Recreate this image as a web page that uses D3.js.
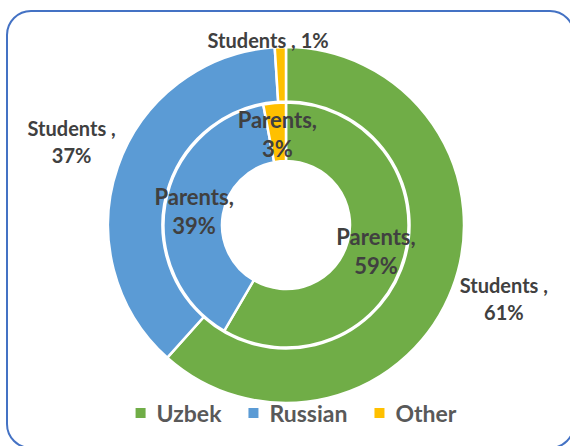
<!DOCTYPE html>
<html>
<head>
<meta charset="utf-8">
<script src="https://cdn.jsdelivr.net/npm/d3@7"></script>
<style>
  body { margin: 0; background: #fff; }
  svg { display: block; }
  text { font-family: Lato, "Open Sans", sans-serif; font-weight: bold; }
</style>
</head>
<body>
<div id="main"></div>
<script>
const W = 570, H = 446;

const languages = ["Uzbek", "Russian", "Other"];
const colors = ["#70AD47", "#5B9BD5", "#FFC000"];
const students = [61, 37, 1];
const parents = [59, 39, 3];

const cx = 286, cy = 225;

let svg = d3.select("#main").append("svg")
    .attr("width", W)
    .attr("height", H);

// frame
svg.append("rect")
    .attr("x", 7).attr("y", 11)
    .attr("width", 567).attr("height", 437)
    .attr("rx", 24).attr("ry", 24)
    .attr("fill", "none")
    .attr("stroke", "#4472C4")
    .attr("stroke-width", 2);

let pie = d3.pie().sort(null);
let color = d3.scaleOrdinal().domain(languages).range(colors);

let g = svg.append("g").attr("transform", `translate(${cx},${cy})`);

let outerArc = d3.arc().innerRadius(123.5).outerRadius(178);
let innerArc = d3.arc().innerRadius(64).outerRadius(122.5);

g.append("g").selectAll("path")
    .data(pie(students))
    .enter()
    .append("path")
    .attr("d", outerArc)
    .attr("fill", (d, i) => color(languages[i]))
    .attr("stroke", "#fff")
    .attr("stroke-width", 2.5);

g.append("g").selectAll("path")
    .data(pie(parents))
    .enter()
    .append("path")
    .attr("d", innerArc)
    .attr("fill", (d, i) => color(languages[i]))
    .attr("stroke", "#fff")
    .attr("stroke-width", 2.5);

// parents labels in the ring
g.append("g").selectAll("text")
    .data(pie(parents))
    .enter()
    .append("text")
    .attr("fill", "#404040")
    .attr("font-size", 22)
    .attr("text-anchor", "middle")
    .each(function (d) {
        let c = innerArc.centroid(d);
        let t = d3.select(this);
        t.append("tspan").attr("x", c[0]).attr("y", c[1] - 4).text("Parents,");
        t.append("tspan").attr("x", c[0]).attr("y", c[1] + 25).text(d.data + "%");
    });

// students labels outside
let labelArc = d3.arc().innerRadius(230).outerRadius(230);
g.append("g").selectAll("text")
    .data(pie(students))
    .enter()
    .append("text")
    .attr("fill", "#404040")
    .attr("font-size", 20)
    .attr("text-anchor", "middle")
    .each(function (d) {
        let t = d3.select(this);
        if (d.endAngle - d.startAngle < 0.1) {
            let a = (d.startAngle + d.endAngle) / 2;
            t.append("tspan")
                .attr("x", 186 * Math.sin(a) - 12)
                .attr("y", -177)
                .text("Students , " + d.data + "%");
        } else {
            let c = labelArc.centroid(d);
            t.append("tspan").attr("x", c[0] + 3).attr("y", c[1] - 14).text("Students ,");
            t.append("tspan").attr("x", c[0] + 3).attr("y", c[1] + 13).text(d.data + "%");
        }
    });

// legend
let legend = svg.append("g");
let items = legend.selectAll("g")
    .data(languages)
    .enter()
    .append("g");
items.append("rect")
    .attr("width", 10).attr("height", 10)
    .attr("y", 408)
    .attr("fill", d => color(d));
items.append("text")
    .attr("y", 422)
    .attr("x", 21)
    .attr("font-size", 23)
    .attr("fill", "#595959")
    .text(d => d);

let xs = 0;
items.each(function () {
    let el = d3.select(this);
    el.attr("data-x", xs);
    xs += 21 + el.select("text").node().getComputedTextLength() + 27;
});
let total = xs - 27;
let start = 296 - total / 2;
items.attr("transform", function () {
    return `translate(${start + (+d3.select(this).attr("data-x"))},0)`;
});
</script>
</body>
</html>
